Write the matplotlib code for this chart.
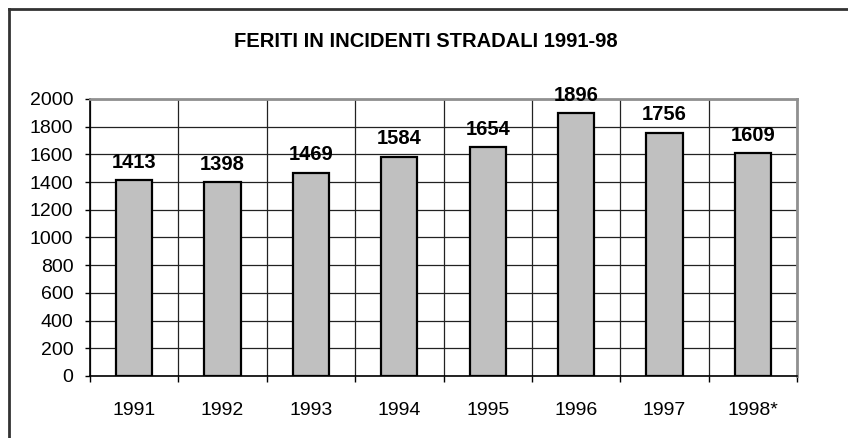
import matplotlib
matplotlib.use("Agg")
import matplotlib.pyplot as plt
from matplotlib.lines import Line2D
import numpy as np

plt.rcParams['font.family'] = ['Liberation Sans', 'DejaVu Sans']

title = "FERITI IN INCIDENTI STRADALI 1991-98"
years = ["1991", "1992", "1993", "1994", "1995", "1996", "1997", "1998*"]
values = [1413, 1398, 1469, 1584, 1654, 1896, 1756, 1609]
yticks = [0, 200, 400, 600, 800, 1000, 1200, 1400, 1600, 1800, 2000]

W, H = 848, 438
fig = plt.figure(figsize=(W / 100, H / 100), dpi=100)
ax = fig.add_axes([90 / W, 1 - 376 / H, (797 - 90) / W, (376 - 99) / H])

x = np.arange(len(years))
ax.bar(x, values, width=0.41, color="#c0c0c0", edgecolor="black", linewidth=1.6, zorder=3)

for xi, v in zip(x, values):
    ax.annotate(str(v), (xi, v), xytext=(0, 6), textcoords="offset points",
                ha="center", va="bottom", fontsize=14.5, fontweight="bold", zorder=4)

ax.set_xlim(-0.5, len(years) - 0.5)
ax.set_ylim(0, 2000)
ax.set_yticks(yticks)
ax.set_yticklabels([str(t) for t in yticks], fontsize=14)
ax.set_xticks(x)
ax.set_xticklabels(years, fontsize=14)
ax.set_xticks(np.arange(-0.5, len(years)), minor=True)
ax.tick_params(axis="x", which="major", length=0, pad=19)
ax.tick_params(axis="x", which="minor", length=4.5, width=1, direction="out", color="black")
ax.tick_params(axis="y", which="major", length=3.5, width=1, direction="out", pad=8.5)

ax.grid(True, axis="y", which="major", color="#222222", linewidth=0.9, zorder=0)
ax.grid(True, axis="x", which="minor", color="#222222", linewidth=0.9, zorder=0)
ax.set_axisbelow(True)

for s in ["top", "right"]:
    ax.spines[s].set_color("#909090")
    ax.spines[s].set_linewidth(2)
for s in ["left", "bottom"]:
    ax.spines[s].set_color("black")
    ax.spines[s].set_linewidth(1.2)

fig.text(426 / W, 1 - 47 / H, title, ha="center", va="baseline", fontsize=14.5, fontweight="bold")

# outer chart frame (top and left edges visible)
fig.add_artist(Line2D([8.5 / W, 1.0], [1 - 8.5 / H, 1 - 8.5 / H], transform=fig.transFigure,
                      color="#333333", linewidth=2))
fig.add_artist(Line2D([8.5 / W, 8.5 / W], [0, 1 - 8.5 / H], transform=fig.transFigure,
                      color="#333333", linewidth=2))

fig.savefig("out.png", dpi=100)
